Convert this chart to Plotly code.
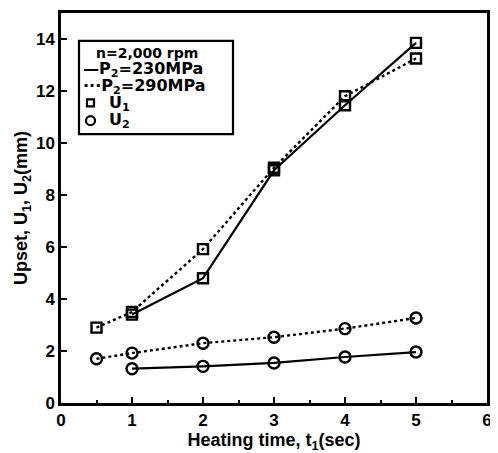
import plotly.graph_objects as go

# Data
t_230 = [1, 2, 3, 4, 5]
u1_230 = [3.4, 4.8, 8.95, 11.45, 13.85]
u2_230 = [1.32, 1.41, 1.54, 1.77, 1.96]

t_290 = [0.5, 1, 2, 3, 4, 5]
u1_290 = [2.9, 3.5, 5.92, 9.05, 11.8, 13.25]
u2_290 = [1.7, 1.92, 2.3, 2.53, 2.86, 3.27]

x_ticks = [0, 1, 2, 3, 4, 5, 6]
y_ticks = [0, 2, 4, 6, 8, 10, 12, 14]

legend_lines = ["n=2,000 rpm", "—P<sub>2</sub>=230MPa", "···P<sub>2</sub>=290MPa",
                "U<sub>1</sub>", "U<sub>2</sub>"]

FONT = "Liberation Sans"

fig = go.Figure()

def add(x, y, dash, symbol, size):
    fig.add_trace(go.Scatter(
        x=x, y=y, mode="lines+markers",
        line=dict(color="black", width=2.2 if dash == "solid" else 2.4, dash=dash),
        marker=dict(symbol=symbol, size=size, color="black",
                    line=dict(color="black", width=2.4)),
        showlegend=False, cliponaxis=False))

add(t_290, u1_290, "dot", "square-open", 10)
add(t_230, u1_230, "solid", "square-open", 10)
add(t_290, u2_290, "dot", "circle-open", 11)
add(t_230, u2_230, "solid", "circle-open", 11)

axis_common = dict(
    showline=True, linecolor="black", linewidth=2.5, mirror=True,
    ticks="inside", ticklen=6, tickwidth=2, tickcolor="black",
    showgrid=False, zeroline=False,
    tickfont=dict(family=FONT, size=17, color="black", weight="bold"),
)

fig.update_xaxes(
    range=[0, 6], tickvals=x_ticks, ticktext=[str(v) for v in x_ticks],
    minor=dict(ticks="inside", dtick=0.5, tick0=0, ticklen=3, tickwidth=1.5, tickcolor="black"),
    title=dict(text="Heating time, t<sub>1</sub>(sec)", standoff=2,
               font=dict(family=FONT, size=18, color="black", weight="bold")),
    **axis_common)
fig.update_yaxes(
    range=[0, 15], tickvals=y_ticks, ticktext=[str(v) for v in y_ticks],
    title=dict(text="Upset, U<sub>1</sub>, U<sub>2</sub>(mm)", standoff=4,
               font=dict(family=FONT, size=18, color="black", weight="bold")),
    **axis_common)

# legend box (plot area spans 426 x 393 px)
PW, PH = 426.0, 393.0
def px(x):
    return (x - 61) / PW
def py(y):
    return (403 - y) / PH

fig.add_shape(type="rect", xref="paper", yref="paper",
              x0=px(79), x1=px(233), y0=py(132), y1=py(38),
              line=dict(color="black", width=2.2), fillcolor="white", layer="above")
# legend symbol samples
fig.add_shape(type="rect", xref="paper", yref="paper",
              x0=px(87), x1=px(94), y0=py(104), y1=py(97),
              line=dict(color="black", width=2.2), layer="above")
fig.add_shape(type="circle", xref="paper", yref="paper",
              x0=px(86), x1=px(95), y0=py(123), y1=py(114),
              line=dict(color="black", width=2.2), layer="above")

line_y = [50, 67, 84, 101, 118]
line_x = [95, 82, 82, 108, 108]
line_size = [14, 16, 16, 16, 16]
for txt, lx, ly, sz in zip(legend_lines, line_x, line_y, line_size):
    fig.add_annotation(
        xref="paper", yref="paper", x=px(lx), y=py(ly),
        xanchor="left", yanchor="middle", align="left", showarrow=False,
        borderpad=0,
        text=txt, font=dict(family="DejaVu Sans", size=sz, color="black", weight="bold"))

# page body has an 8px default margin; size figure to compensate
fig.update_layout(
    width=490, height=445,
    margin=dict(l=53, r=11, t=2, b=50),
    paper_bgcolor="white", plot_bgcolor="white",
)

fig.write_html("out.html")
